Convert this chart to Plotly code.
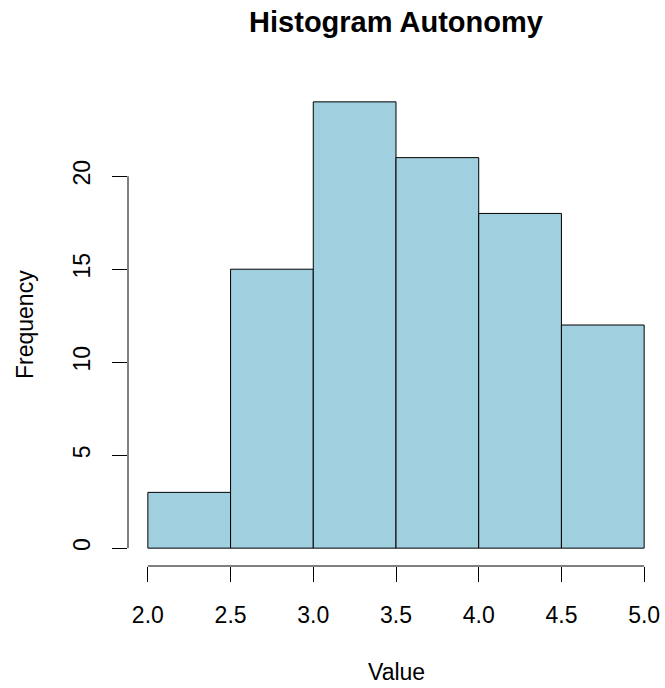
import plotly.graph_objects as go

bin_edges = [2.0, 2.5, 3.0, 3.5, 4.0, 4.5, 5.0]
counts = [3, 15, 24, 21, 18, 12]
x_ticks = [2.0, 2.5, 3.0, 3.5, 4.0, 4.5, 5.0]
x_tick_labels = ["2.0", "2.5", "3.0", "3.5", "4.0", "4.5", "5.0"]
y_ticks = [0, 5, 10, 15, 20]
y_tick_labels = ["0", "5", "10", "15", "20"]

mids = [(a + b) / 2 for a, b in zip(bin_edges[:-1], bin_edges[1:])]
widths = [b - a for a, b in zip(bin_edges[:-1], bin_edges[1:])]

W, H = 665, 688
L, R, T, B = 128, 1, 84, 122
pw, ph = W - L - R, H - T - B

font = "Liberation Sans, Arial, Helvetica, sans-serif"

fig = go.Figure(go.Bar(
    x=mids, y=counts, width=widths,
    marker=dict(color="#a0cfe0", line=dict(color="black", width=1)),
    hoverinfo="x+y",
))

xr = (bin_edges[0], bin_edges[-1])
span = xr[1] - xr[0]
ymax = max(counts)

fig.update_layout(
    width=W, height=H,
    margin=dict(l=L, r=R, t=T, b=B),
    paper_bgcolor="white", plot_bgcolor="white",
    showlegend=False,
    font=dict(family=font, size=24, color="black"),
    title=dict(text="<b>Histogram Autonomy</b>", x=0.5, xref="paper", xanchor="center",
               y=1 - 22 / H, yref="container", yanchor="middle",
               font=dict(size=29, family=font, color="black")),
    xaxis=dict(range=[xr[0] - 0.04 * span, xr[1] + 0.04 * span],
               tickvals=x_ticks, ticktext=x_tick_labels,
               ticks="outside", ticklen=15, tickwidth=1, tickcolor="black",
               showline=False, showgrid=False, zeroline=False,
               tickfont=dict(size=23), ticklabelstandoff=13),
    yaxis=dict(range=[-0.04 * ymax, ymax * 1.04],
               tickvals=y_ticks, ticktext=y_tick_labels, tickangle=-90,
               ticks="outside", ticklen=15, tickwidth=1, tickcolor="black",
               showline=False, showgrid=False, zeroline=False,
               tickfont=dict(size=23), ticklabelstandoff=13),
    shapes=[
        dict(type="line", xref="x", yref="paper", x0=x_ticks[0], x1=x_ticks[-1], y0=0, y1=0,
             line=dict(color="black", width=1)),
        dict(type="line", xref="paper", yref="y", x0=0, x1=0, y0=y_ticks[0], y1=y_ticks[-1],
             line=dict(color="black", width=1)),
    ],
    annotations=[
        dict(text="Value", xref="paper", yref="paper", x=0.5, y=-(672 - (H - B)) / ph,
             xanchor="center", yanchor="middle", showarrow=False, font=dict(size=23)),
        dict(text="Frequency", xref="paper", yref="paper", x=-(L - 25) / pw, y=0.5,
             xanchor="center", yanchor="middle", textangle=-90, showarrow=False,
             font=dict(size=23)),
    ],
)

fig.write_html("out.html")
